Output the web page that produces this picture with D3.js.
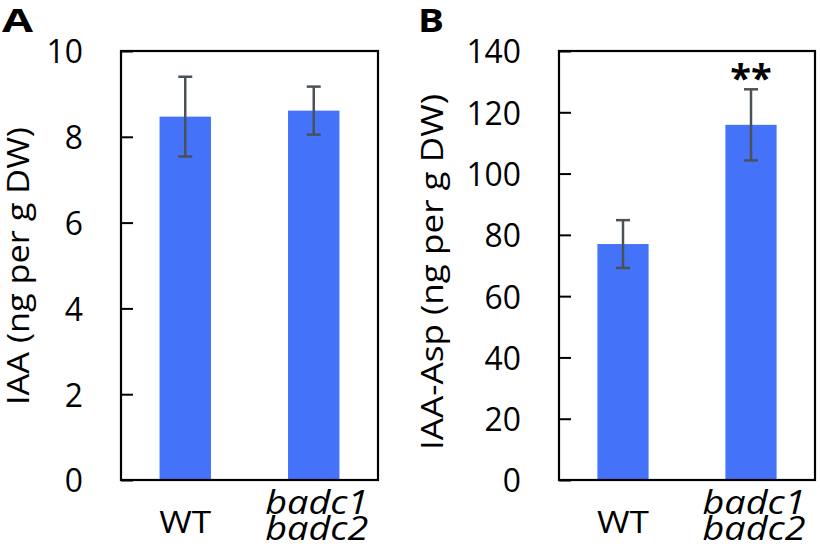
<!DOCTYPE html>
<html>
<head>
<meta charset="utf-8">
<script src="https://cdn.jsdelivr.net/npm/d3@7"></script>
<style>
  html, body { margin: 0; padding: 0; background: #fff; }
  svg { display: block; }
  text { font-family: "Open Sans", "Liberation Sans", sans-serif; fill: #000; }
</style>
</head>
<body>
<svg id="chart" width="820" height="548"></svg>
<script>
// ---- data ----
const categories = ["WT", "badc1\nbadc2"];
const iaaValues = [8.47, 8.61];
const iaaErrors = [0.93, 0.56];
const iaaTicks = [0, 2, 4, 6, 8, 10];
const aspValues = [77.0, 115.9];
const aspErrors = [7.8, 11.6];
const aspTicks = [0, 20, 40, 60, 80, 100, 120, 140];
const aspSignif = ["", "**"];

const panels = [
  { letter: "A", letterX: 2, letterLen: 31, left: 121, right: 378, top: 51, bottom: 480,
    max: 10, ticks: iaaTicks, values: iaaValues, errors: iaaErrors, signif: ["", ""],
    title: "IAA (ng per g DW)", titleX: 29, titleY: 266, titleLen: 278 },
  { letter: "B", letterX: 418, letterLen: 26, left: 559, right: 815, top: 51, bottom: 480,
    max: 140, ticks: aspTicks, values: aspValues, errors: aspErrors, signif: aspSignif,
    title: "IAA-Asp (ng per g DW)", titleX: 443, titleY: 272, titleLen: 356 }
];

const svg = d3.select("#chart");
const barColor = "#4472f9";
const errColor = "#4a5258";

panels.forEach(p => {
  const g = svg.append("g");
  const x = d3.scaleBand().domain(categories).range([p.left, p.right])
    .paddingInner(0.6).paddingOuter(0.3);
  const y = d3.scaleLinear().domain([0, p.max]).range([p.bottom, p.top]);

  // bars
  g.selectAll("rect.bar").data(p.values).join("rect")
    .attr("class", "bar")
    .attr("x", (d, i) => x(categories[i]))
    .attr("width", x.bandwidth())
    .attr("y", d => y(d))
    .attr("height", d => y(0) - y(d))
    .attr("fill", barColor);

  // error bars
  const cx = i => x(categories[i]) + x.bandwidth() / 2;
  const eb = g.selectAll("g.err").data(p.values).join("g").attr("class", "err")
    .attr("stroke", errColor).attr("stroke-width", 2.5).attr("fill", "none");
  eb.append("line").attr("x1", (d, i) => cx(i)).attr("x2", (d, i) => cx(i))
    .attr("y1", (d, i) => y(d - p.errors[i])).attr("y2", (d, i) => y(d + p.errors[i]));
  eb.append("line").attr("x1", (d, i) => cx(i) - 7).attr("x2", (d, i) => cx(i) + 7)
    .attr("y1", (d, i) => y(d + p.errors[i])).attr("y2", (d, i) => y(d + p.errors[i]));
  eb.append("line").attr("x1", (d, i) => cx(i) - 7).attr("x2", (d, i) => cx(i) + 7)
    .attr("y1", (d, i) => y(d - p.errors[i])).attr("y2", (d, i) => y(d - p.errors[i]));

  // y axis (ticks inward)
  const ax = g.append("g").attr("transform", `translate(${p.left},0)`)
    .call(d3.axisLeft(y).tickValues(p.ticks).tickSizeInner(-12).tickSizeOuter(0).tickPadding(38));
  ax.select(".domain").remove();
  ax.selectAll(".tick line").attr("stroke", "#000").attr("stroke-width", 2);
  ax.selectAll(".tick text").attr("font-size", 33).attr("font-family", "Open Sans")
    .attr("fill", "#000").attr("dy", "0.36em")
    .attr("textLength", d => String(d).length * 18.2)
    .attr("lengthAdjust", "spacingAndGlyphs");

  // frame
  g.append("rect").attr("x", p.left).attr("y", p.top)
    .attr("width", p.right - p.left).attr("height", p.bottom - p.top)
    .attr("fill", "none").attr("stroke", "#000").attr("stroke-width", 2.2);

  // x labels
  g.append("text").attr("x", cx(0)).attr("y", 533).attr("text-anchor", "middle")
    .attr("font-size", 31).attr("textLength", 52).attr("lengthAdjust", "spacingAndGlyphs")
    .text(categories[0]);
  const lines = categories[1].split("\n");
  lines.forEach((ln, k) => {
    g.append("text").attr("x", cx(1) + 3).attr("y", 514 + k * 26).attr("text-anchor", "middle")
      .attr("font-size", 32).attr("font-style", "italic")
      .attr("textLength", 103).attr("lengthAdjust", "spacingAndGlyphs")
      .text(ln);
  });

  // significance
  p.signif.forEach((s, i) => {
    if (!s) return;
    g.append("text").attr("x", cx(i)).attr("y", 92).attr("text-anchor", "middle")
      .attr("font-size", 38).attr("font-weight", "bold").text(s);
  });

  // y title
  g.append("text").attr("transform", `translate(${p.titleX},${p.titleY}) rotate(-90)`)
    .attr("text-anchor", "middle").attr("font-size", 31)
    .attr("textLength", p.titleLen).attr("lengthAdjust", "spacingAndGlyphs")
    .text(p.title);

  // panel letter
  g.append("text").attr("x", p.letterX).attr("y", 32)
    .attr("font-family", "Liberation Sans").attr("font-weight", "bold").attr("font-size", 32)
    .attr("textLength", p.letterLen).attr("lengthAdjust", "spacingAndGlyphs")
    .text(p.letter);
});
</script>
</body>
</html>
